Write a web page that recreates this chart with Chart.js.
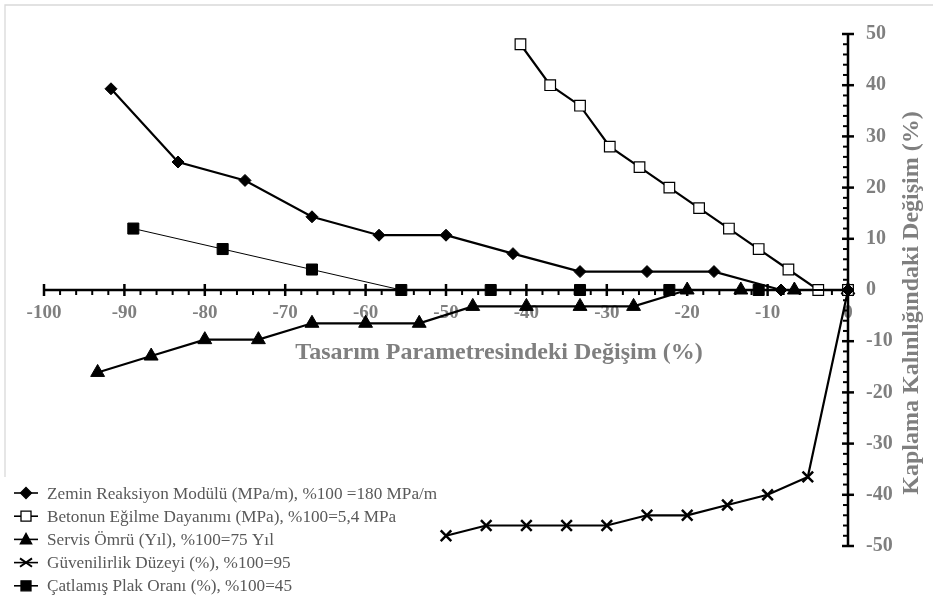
<!DOCTYPE html>
<html>
<head>
<meta charset="utf-8">
<script src="https://cdn.jsdelivr.net/npm/chart.js@4/dist/chart.umd.min.js"></script>
<style>
  html,body{margin:0;padding:0;background:#fff;}
  #wrap{width:933px;height:602px;position:relative;}
</style>
</head>
<body>
<div id="wrap"><canvas id="c"></canvas></div>
<script>
/* ===== DATA ===== */
const zeminX=[-91.67,-83.33,-75,-66.67,-58.33,-50,-41.67,-33.33,-25,-16.67,-8.33,0];
const zeminY=[39.3,25,21.4,14.3,10.7,10.7,7.1,3.6,3.6,3.6,0,0];

const betonX=[-40.74,-37.04,-33.33,-29.63,-25.93,-22.22,-18.52,-14.81,-11.11,-7.41,-3.7,0];
const betonY=[48,40,36,28,24,20,16,12,8,4,0,0];

const servisX=[-93.33,-86.67,-80,-73.33,-66.67,-60,-53.33,-46.67,-40,-33.33,-26.67,-20,-13.33,-6.67,0];
const servisY=[-16.1,-12.9,-9.7,-9.7,-6.5,-6.5,-6.5,-3.2,-3.2,-3.2,-3.2,0,0,0,0];

const guvenX=[-50,-45,-40,-35,-30,-25,-20,-15,-10,-5,0];
const guvenY=[-48,-46,-46,-46,-46,-44,-44,-42,-40,-36.5,0];

const catlakX=[-88.89,-77.78,-66.67,-55.56,-44.44,-33.33,-22.22,-11.11,0];
const catlakY=[12,8,4,0,0,0,0,0,0];

const seriesLabels=[
  'Zemin Reaksiyon Modülü (MPa/m), %100 =180 MPa/m',
  'Betonun Eğilme Dayanımı (MPa), %100=5,4 MPa',
  'Servis Ömrü (Yıl), %100=75 Yıl',
  'Güvenilirlik Düzeyi (%), %100=95',
  'Çatlamış Plak Oranı (%), %100=45'
];
const xTitle='Tasarım Parametresindeki Değişim (%)';
const yTitle='Kaplama Kalınlığındaki Değişim (%)';

const pts=(xs,ys)=>xs.map((x,i)=>({x:x,y:ys[i]}));

const GRAY='#7f7f7f';
const SERIF="'Liberation Serif','Times New Roman',serif";

// small marker painter for the legend
function marker(ctx,style,x,y,r,fill){
  ctx.beginPath();
  if(style==='rectRot'){
    ctx.moveTo(x-r,y);ctx.lineTo(x,y-r);ctx.lineTo(x+r,y);ctx.lineTo(x,y+r);ctx.closePath();
    ctx.fillStyle=fill;ctx.fill();ctx.stroke();
  }else if(style==='rect'){
    ctx.rect(x-r,y-r,2*r,2*r);ctx.fillStyle=fill;ctx.fill();ctx.stroke();
  }else if(style==='triangle'){
    ctx.moveTo(x,y-r);ctx.lineTo(x+r*0.95,y+r*0.75);ctx.lineTo(x-r*0.95,y+r*0.75);ctx.closePath();
    ctx.fillStyle=fill;ctx.fill();ctx.stroke();
  }else if(style==='crossRot'){
    ctx.moveTo(x-r,y-r*0.7);ctx.lineTo(x+r,y+r*0.7);
    ctx.moveTo(x-r,y+r*0.7);ctx.lineTo(x+r,y-r*0.7);
    ctx.stroke();
  }
}

const decor={
  id:'decor',
  beforeDraw(chart){
    const ctx=chart.ctx;
    ctx.save();
    ctx.strokeStyle='#d9d9d9';ctx.lineWidth=1.3;
    ctx.beginPath();
    ctx.moveTo(5,477);ctx.lineTo(5,5);ctx.lineTo(933,5);
    ctx.stroke();
    ctx.restore();
  },
  beforeDatasetsDraw(chart){
    const {ctx,scales:{x,y}}=chart;
    const y0=y.getPixelForValue(0),x0=x.getPixelForValue(0);
    const ln=(a,b,c,d)=>{ctx.beginPath();ctx.moveTo(a,b);ctx.lineTo(c,d);ctx.stroke();};
    ctx.save();
    ctx.strokeStyle='#000';
    ctx.lineWidth=2.5;
    ln(x.getPixelForValue(-100),y0,x0+1,y0);
    ln(x0,y.getPixelForValue(50),x0,y.getPixelForValue(-50));
    for(let v=-100;v<=0;v+=2){
      const p=x.getPixelForValue(v);
      if(v%10===0){ctx.lineWidth=2.5;ln(p,y0-6,p,y0+6);}
      else{ctx.lineWidth=2;ln(p,y0,p,y0+5);}
    }
    for(let v=-50;v<=50;v+=2){
      const p=y.getPixelForValue(v);
      if(v%10===0){ctx.lineWidth=2.5;ln(x0-6,p,x0+6,p);}
      else{ctx.lineWidth=2;ln(x0-5,p,x0,p);}
    }
    ctx.restore();
  },
  afterDraw(chart){
    const ctx=chart.ctx;
    ctx.save();
    // axis titles
    ctx.fillStyle=GRAY;
    ctx.font='bold 24px '+SERIF;
    ctx.textAlign='center';ctx.textBaseline='middle';
    ctx.fillText(xTitle,499,353);
    ctx.translate(912,303);ctx.rotate(-Math.PI/2);
    ctx.fillText(yTitle,0,0);
    ctx.restore();

    // legend
    ctx.save();
    chart.data.datasets.forEach((ds,i)=>{
      const yc=493+i*23.2;
      ctx.strokeStyle='#000';ctx.lineWidth=1.6;
      ctx.beginPath();ctx.moveTo(14,yc);ctx.lineTo(38,yc);ctx.stroke();
      ctx.lineWidth=ds.pointStyle==='crossRot'?2:1.3;
      marker(ctx,ds.pointStyle,26,yc,ds.legendR,ds.pointBackgroundColor);
      ctx.fillStyle='#595959';
      ctx.font='17.2px '+SERIF;
      ctx.textAlign='left';ctx.textBaseline='middle';
      ctx.fillText(ds.label,47,yc+1);
    });
    ctx.restore();
  }
};

const base={borderColor:'#000',pointBorderColor:'#000',tension:0,fill:false,clip:false};

new Chart(document.getElementById('c'),{
  type:'line',
  data:{
    datasets:[
      {...base,label:seriesLabels[0],data:pts(zeminX,zeminY),borderWidth:2.2,
        pointStyle:'rectRot',pointRadius:6,pointBackgroundColor:'#000',pointBorderWidth:1,legendR:5.5},
      {...base,label:seriesLabels[1],data:pts(betonX,betonY),borderWidth:2.2,
        pointStyle:'rect',pointRadius:7.5,pointBackgroundColor:'#fff',pointBorderWidth:1.2,legendR:5},
      {...base,label:seriesLabels[2],data:pts(servisX,servisY),borderWidth:2.2,
        pointStyle:'triangle',pointRadius:8,pointBackgroundColor:'#000',pointBorderWidth:1,legendR:6},
      {...base,label:seriesLabels[3],data:pts(guvenX,guvenY),borderWidth:2.2,
        pointStyle:'crossRot',pointRadius:7.5,pointBackgroundColor:'#000',pointBorderWidth:2.5,legendR:6},
      {...base,label:seriesLabels[4],data:pts(catlakX,catlakY),borderWidth:1,
        pointStyle:'rect',pointRadius:7.8,pointBackgroundColor:'#000',pointBorderWidth:1,legendR:5}
    ]
  },
  options:{
    responsive:true,maintainAspectRatio:false,animation:false,events:[],
    layout:{padding:{left:44,top:34,bottom:56,right:0}},
    plugins:{legend:{display:false},tooltip:{enabled:false}},
    scales:{
      x:{
        type:'linear',min:-100,max:0,position:{y:0},
        grid:{display:false,drawTicks:false},border:{display:false},
        ticks:{stepSize:10,autoSkip:false,maxRotation:0,padding:12,color:GRAY,
          font:{family:SERIF,size:19,weight:'bold'}}
      },
      y:{
        type:'linear',min:-50,max:50,position:'right',
        grid:{display:false,drawTicks:false},border:{display:false},
        afterFit:s=>{s.width=85;},
        ticks:{stepSize:10,padding:18,color:GRAY,
          font:{family:SERIF,size:20,weight:'bold'}}
      }
    }
  },
  plugins:[decor]
});
</script>
</body>
</html>
